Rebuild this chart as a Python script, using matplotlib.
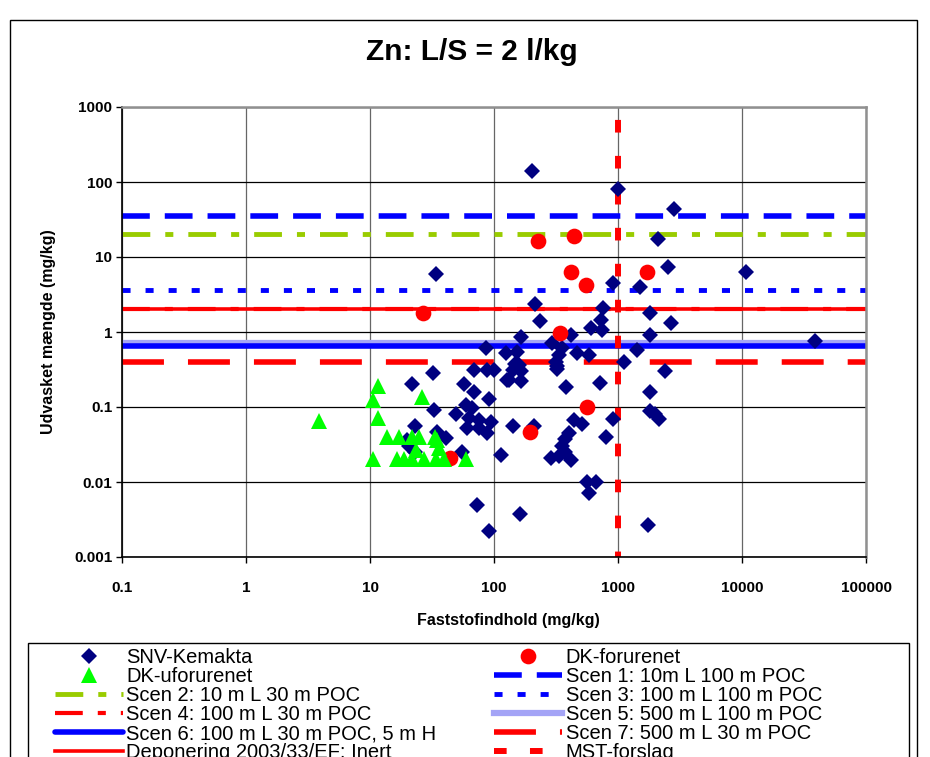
import matplotlib
matplotlib.use("Agg")
import matplotlib.pyplot as plt
from matplotlib.lines import Line2D
from matplotlib.patches import Rectangle

plt.rcParams['font.family'] = ['Liberation Sans', 'DejaVu Sans']
plt.rcParams['lines.scale_dashes'] = False

# SNV-Kemakta samples: solid content (mg/kg) vs leached amount (mg/kg)
snv_x = [203, 995, 2850, 2090, 2550, 10800, 33.8, 903, 1506, 213,
         759, 1813, 234, 731, 2693, 745, 601, 1813, 415, 164,
         38500, 292, 86, 355, 124, 154, 469, 582, 1410, 1113,
         314, 324, 148, 141, 164, 2393, 128, 164, 69, 88,
         100, 32.4, 22, 57, 69, 91, 382, 718, 1813, 33,
         49, 59, 67, 63, 76, 94, 61, 76, 87, 41,
         35, 23, 20.7, 23, 55, 113, 143, 441, 508, 402,
         372, 355, 286, 334, 415, 372, 1813, 2000, 2158, 908,
         802, 564, 659, 582, 73.5, 161, 91, 1745, 159, 133,
         334, 324, 210, 20]
snv_y = [140, 80, 44, 17.5, 7.4, 6.25, 5.9, 4.5, 3.95, 2.36,
         2.07, 1.79, 1.4, 1.45, 1.33, 1.06, 1.12, 0.91, 0.91, 0.85,
         0.77, 0.72, 0.61, 0.61, 0.53, 0.54, 0.52, 0.50, 0.58, 0.40,
         0.40, 0.32, 0.38, 0.31, 0.30, 0.30, 0.23, 0.22, 0.31, 0.31,
         0.31, 0.28, 0.20, 0.20, 0.16, 0.128, 0.183, 0.21, 0.158, 0.091,
         0.080, 0.106, 0.097, 0.071, 0.067, 0.064, 0.052, 0.052, 0.045, 0.039,
         0.046, 0.056, 0.030, 0.025, 0.025, 0.023, 0.055, 0.067, 0.059, 0.045,
         0.038, 0.030, 0.021, 0.022, 0.0196, 0.025, 0.0885, 0.080, 0.070, 0.070,
         0.040, 0.0101, 0.0101, 0.0071, 0.0049, 0.0038, 0.0022, 0.0027, 0.36, 0.23,
         0.50, 0.35, 0.055, 0.036]

# DK-forurenet
dkf_x = [226, 438, 417, 554, 1705, 27, 340, 558, 195, 44]
dkf_y = [16.3, 19, 6.4, 4.2, 6.25, 1.8, 0.97, 0.099, 0.046, 0.021]

# DK-uforurenet
dku_x = [3.9, 11.7, 10.5, 11.7, 10.5, 26.3, 13.8, 17, 22, 24.8,
         33.7, 16.6, 18.7, 22, 27.4, 33.8, 39.7, 59, 23.4, 36.3, 35]
dku_y = [0.065, 0.19, 0.124, 0.071, 0.02, 0.137, 0.04, 0.04, 0.04, 0.04,
         0.04, 0.02, 0.02, 0.02, 0.02, 0.02, 0.02, 0.02, 0.027, 0.028, 0.036]

# scenario limit values (mg/kg)
scen1 = 35
scen2 = 20
scen3 = 3.6
scen4 = 2.0
scen5 = 0.71
scen6 = 0.65
scen7 = 0.4
deponering = 2.0
mst_forslag = 1000

x_range = [0.1, 100000]
y_range = [0.001, 1000]
x_ticks = [0.1, 1, 10, 100, 1000, 10000, 100000]
x_ticklabels = ['0.1', '1', '10', '100', '1000', '10000', '100000']
y_ticks = [0.001, 0.01, 0.1, 1, 10, 100, 1000]
y_ticklabels = ['0.001', '0.01', '0.1', '1', '10', '100', '1000']

W, H = 930, 757
fig = plt.figure(figsize=(W / 100, H / 100), dpi=100)
ax = fig.add_axes([122 / W, 1 - 557 / H, 744 / W, 450 / H])
ax.set_xscale('log')
ax.set_yscale('log')
ax.set_xlim(x_range)
ax.set_ylim(y_range)

# horizontal scenario lines
def hline(level, **kw):
    return ax.plot(x_range, [level, level], zorder=2, **kw)[0]

h_s1 = hline(scen1, color='#0000FF', lw=4, linestyle=(0, (20, 10.8)))
h_s2 = hline(scen2, color='#99CC00', lw=3.5, linestyle=(0, (20, 10.8, 5.8, 10.8)))
h_s3 = hline(scen3, color='#0000FF', lw=3.5, linestyle=(0, (5.8, 10.8)))
h_s5 = hline(scen5, color='#A4A4F6', lw=4.5)
h_s6 = hline(scen6, color='#0000FF', lw=4, solid_capstyle='round')
h_dep = hline(deponering, color='#FF0000', lw=2.6)
h_s4 = hline(scen4, color='#FF0000', lw=3, linestyle=(0, (20, 10.8, 5.8, 10.8)))
h_s7 = hline(scen7, color='#FF0000', lw=4, linestyle=(0, (30.2, 17.3)))

# MST proposal, vertical
ax.plot([mst_forslag, mst_forslag], [y_range[1], y_range[0]], color='#FF0000',
        lw=4.3, linestyle=(16.6, (9.1, 16.8)), zorder=2)
h_mst = Line2D([], [], color='#FF0000', lw=4.3, linestyle=(0, (9.1, 16.8)))

# sample data
h_snv, = ax.plot(snv_x, snv_y, 'D', color='#000080', ms=8, mew=0, ls='none', zorder=3)
h_dkf, = ax.plot(dkf_x, dkf_y, 'o', color='#FF0000', ms=11.3, mew=0, ls='none', zorder=4)
h_dku, = ax.plot(dku_x, dku_y, '^', color='#00FF00', ms=11.3, mew=0, ls='none', zorder=5)

# axes styling
ax.set_xticks(x_ticks)
ax.set_xticklabels(x_ticklabels)
ax.set_yticks(y_ticks)
ax.set_yticklabels(y_ticklabels)
ax.minorticks_off()
ax.tick_params(axis='x', direction='out', length=4, width=1, pad=13, labelsize=11)
ax.tick_params(axis='y', direction='out', length=4, width=1, pad=3, labelsize=11)
for lab in ax.get_xticklabels() + ax.get_yticklabels():
    lab.set_fontweight('bold')
ax.xaxis.grid(True, color='#666666', lw=0.9, zorder=0)
ax.yaxis.grid(True, color='black', lw=0.9, zorder=0)
ax.set_axisbelow(True)
ax.spines['left'].set_color('black')
ax.spines['bottom'].set_color('black')
ax.spines['left'].set_linewidth(1.2)
ax.spines['bottom'].set_linewidth(1.2)
for side in ('top', 'right'):
    ax.spines[side].set_color('#909090')
    ax.spines[side].set_linewidth(1.8)

fig.text(472 / W, 1 - 52 / H, 'Zn: L/S = 2 l/kg', ha='center', va='center',
         fontsize=21.5, fontweight='bold')
fig.text(508 / W, 1 - 620 / H, 'Faststofindhold (mg/kg)', ha='center', va='center',
         fontsize=11.5, fontweight='bold')
fig.text(48 / W, 1 - 332 / H, 'Udvasket mængde (mg/kg)', ha='center', va='center',
         rotation=90, fontsize=11.5, fontweight='bold')

handles = [h_snv, h_dku, h_s2, h_s4, h_s6, h_dep,
           h_dkf, h_s1, h_s3, h_s5, h_s7, h_mst]
labels = ['SNV-Kemakta', 'DK-uforurenet', 'Scen 2: 10 m L 30 m POC',
          'Scen 4: 100 m L 30 m POC', 'Scen 6: 100 m L 30 m POC, 5 m H',
          'Deponering 2003/33/EF: Inert',
          'DK-forurenet', 'Scen 1: 10m L 100 m POC', 'Scen 3: 100 m L 100 m POC',
          'Scen 5: 500 m L 100 m POC', 'Scen 7: 500 m L 30 m POC', 'MST-forslag']
ax.legend(handles, labels, ncol=2, loc='upper left',
          bbox_to_anchor=(55 / W, 1 - 648 / H), bbox_transform=fig.transFigure,
          frameon=False, fontsize=14.5, handlelength=3.4, handletextpad=0.15,
          columnspacing=2.85, labelspacing=0.0, borderpad=0, borderaxespad=0,
          numpoints=1)

# chart and legend frames
fig.add_artist(Rectangle((28 / W, -0.1), 881 / W, 0.1 + 1 - 643 / H,
                         transform=fig.transFigure, fill=False, edgecolor='black', lw=1))
fig.add_artist(Rectangle((10 / W, -0.1), 907 / W, 0.1 + 1 - 20 / H,
                         transform=fig.transFigure, fill=False, edgecolor='black', lw=1))

fig.savefig('out.png', dpi=100)
